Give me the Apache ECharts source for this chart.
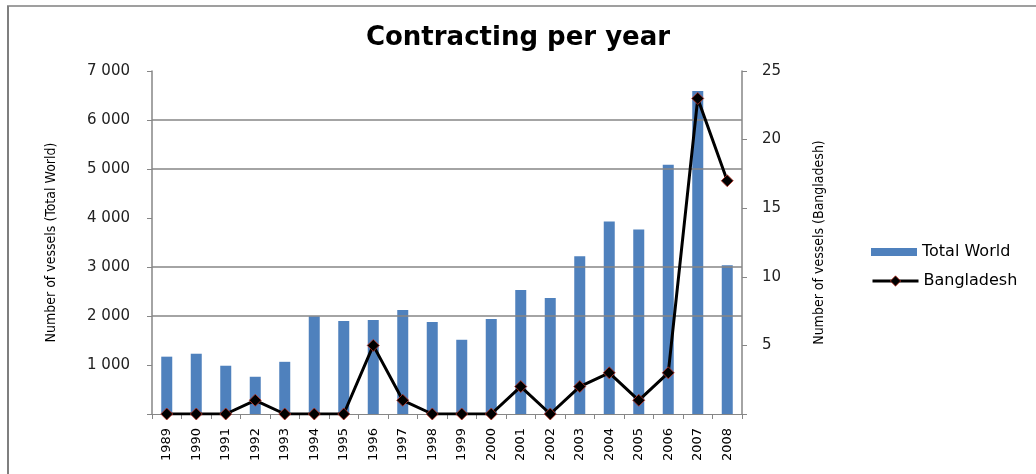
<!DOCTYPE html>
<html>
<head>
<meta charset="utf-8">
<script src="https://cdn.jsdelivr.net/npm/echarts@6/dist/echarts.min.js"></script>
<style>
html,body{margin:0;padding:0;background:#fff;}
#chart{width:1036px;height:474px;}
</style>
</head>
<body>
<div id="chart"></div>
<script>
var years = ['1989','1990','1991','1992','1993','1994','1995','1996','1997','1998','1999','2000','2001','2002','2003','2004','2005','2006','2007','2008'];
var totalWorld = [1170,1230,985,760,1065,1995,1900,1920,2120,1880,1515,1940,2530,2365,3220,3930,3765,5085,6590,3035];
var bangladesh = [0,0,0,1,0,0,0,5,1,0,0,0,2,0,2,3,1,3,23,17];
var gridValues = [2000,3000,5000,6000];

var chart = echarts.init(document.getElementById('chart'));
var axisGrey = '#868686';
var nameFont = {fontFamily: 'DejaVu Sans Condensed, DejaVu Sans', fontSize: 14, color: '#000'};
var legendText = {fontFamily: 'DejaVu Sans', fontSize: 16, color: '#000'};
chart.setOption({
  animation: false,
  backgroundColor: '#ffffff',
  title: {
    text: 'Contracting per year',
    left: 'center',
    top: 20,
    textStyle: {fontFamily: 'DejaVu Sans', fontWeight: 'bold', fontSize: 26, color: '#000'}
  },
  graphic: [
    {type: 'line', shape: {x1: 8, y1: 6, x2: 8, y2: 474}, style: {stroke: '#7f7f7f', lineWidth: 2}},
    {type: 'line', shape: {x1: 7, y1: 6, x2: 1036, y2: 6}, style: {stroke: '#7f7f7f', lineWidth: 1.5}}
  ],
  legend: [
    {
      left: 866, top: 239, itemWidth: 46, itemHeight: 8,
      textStyle: legendText,
      data: [{name: 'Total World', icon: 'rect'}]
    },
    {
      left: 866, top: 268, itemWidth: 46, itemHeight: 13,
      textStyle: legendText,
      lineStyle: {width: 3, color: '#000'},
      itemStyle: {color: '#000', borderColor: '#c0392b', borderWidth: 0.8},
      data: [{name: 'Bangladesh'}]
    }
  ],
  grid: {left: 152, right: 294, top: 71, bottom: 60},
  xAxis: {
    type: 'category',
    data: years,
    boundaryGap: true,
    axisLine: {lineStyle: {color: axisGrey, width: 1}},
    axisTick: {show: true, length: 5, lineStyle: {color: axisGrey}},
    axisLabel: {rotate: 90, margin: 14, fontFamily: 'DejaVu Sans', fontSize: 13, color: '#000', interval: 0}
  },
  yAxis: [
    {
      type: 'value', min: 0, max: 7000, interval: 1000, position: 'left',
      name: 'Number of vessels (Total World)', nameLocation: 'middle', nameGap: 94, nameRotate: 90,
      nameTextStyle: nameFont,
      axisLine: {show: true, lineStyle: {color: axisGrey, width: 1.5}},
      axisTick: {show: true, length: 5, lineStyle: {color: axisGrey}},
      splitLine: {show: false},
      axisLabel: {
        margin: 22, fontFamily: 'DejaVu Sans', fontSize: 15, color: '#222',
        formatter: function (v) { return v === 0 ? '' : String(v).replace(/\B(?=(\d{3})+(?!\d))/g, ' '); }
      }
    },
    {
      type: 'value', min: 0, max: 25, interval: 5, position: 'right',
      name: 'Number of vessels (Bangladesh)', nameLocation: 'middle', nameGap: 70, nameRotate: 90,
      nameTextStyle: nameFont,
      axisLine: {show: true, lineStyle: {color: axisGrey, width: 1.5}},
      axisTick: {show: true, length: 5, lineStyle: {color: axisGrey}},
      splitLine: {show: false},
      axisLabel: {
        margin: 20, fontFamily: 'DejaVu Sans', fontSize: 15, color: '#222',
        formatter: function (v) { return v === 0 ? '' : String(v); }
      }
    }
  ],
  series: [
    {
      name: 'Total World', type: 'bar', yAxisIndex: 0, data: totalWorld,
      barWidth: 11, itemStyle: {color: '#4f81bd'},
      markLine: {
        silent: true, symbol: 'none', label: {show: false},
        lineStyle: {color: axisGrey, type: 'solid', width: 1.5},
        data: gridValues.map(function (v) { return {yAxis: v}; })
      },
      z: 2
    },
    {
      name: 'Bangladesh', type: 'line', yAxisIndex: 1, data: bangladesh,
      symbol: 'diamond', symbolSize: 12,
      lineStyle: {color: '#000', width: 3},
      itemStyle: {color: '#000', borderColor: '#c0392b', borderWidth: 0.8},
      z: 5
    }
  ]
});
</script>
</body>
</html>
